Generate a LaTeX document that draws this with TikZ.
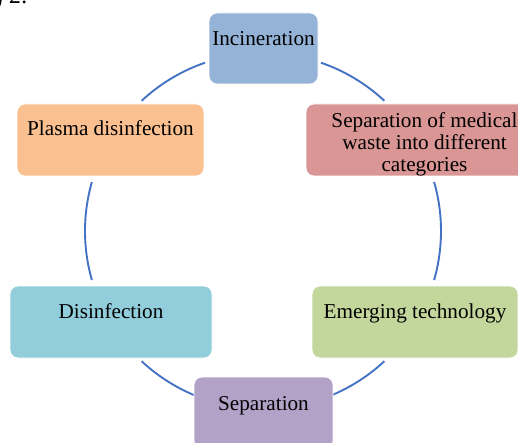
\documentclass[tikz,border=0pt]{standalone}
\usepackage{fontspec}
\setmainfont{Liberation Serif}
\usepackage{tikz}
\definecolor{incblue}{HTML}{95B3D7}
\definecolor{sepred}{HTML}{D99694}
\definecolor{emgreen}{HTML}{C3D69B}
\definecolor{seppurple}{HTML}{B2A2C7}
\definecolor{discyan}{HTML}{92CDDC}
\definecolor{plasorange}{HTML}{FAC090}
\definecolor{cyclink}{HTML}{4472C4}

\begin{document}
\begin{tikzpicture}[x=0.5pt, y=-0.5pt,
    font=\fontsize{10.6}{11}\selectfont,
    stagebox/.style={rounded corners=4pt, draw=white, line width=0.4pt, inner sep=0pt},
    cyclink/.style={color=cyclink, line width=0.95pt}]
  \useasboundingbox (0, 0) rectangle (518, 443);

  % cut caption above the picture
  \node [anchor=base east, font=\fontsize{12}{14}\selectfont\itshape] (caption) at (35, 4) {Fig 2.};

  % circle of the cycle
  \foreach \a/\b in {-133/-109, -71/-47, -16/16, 47/71, 109/133, 164/196} {
    \draw [cyclink] (263, 231) ++(\a:178) arc [start angle=\a, end angle=\b, radius=178];
  }

  \node [stagebox, fill=incblue, minimum width=54.5pt, minimum height=35.5pt] (inc) at (263.5, 48.5) {};
  \node [stagebox, fill=sepred, minimum width=118.5pt, minimum height=36pt] (sepmed) at (424.5, 140) {};
  \node [stagebox, fill=emgreen, minimum width=103pt, minimum height=36pt] (emerg) at (415, 322) {};
  \node [stagebox, fill=seppurple, minimum width=69.5pt, minimum height=36pt] (sep) at (263.5, 413) {};
  \node [stagebox, fill=discyan, minimum width=101pt, minimum height=36pt] (disinf) at (111, 322) {};
  \node [stagebox, fill=plasorange, minimum width=93.5pt, minimum height=36pt] (plasma) at (110.5, 140) {};

  \node [anchor=base] (inc-t) at (263.5, 46) {Incineration};
  \node [align=center, inner sep=0pt] (sepmed-t) at (424.5, 144)
    {Separation of medical\\ waste into different\\ categories};
  \node [anchor=base] (emerg-t) at (415, 318) {Emerging technology};
  \node [anchor=base] (sep-t) at (263.5, 410) {Separation};
  \node [anchor=base] (disinf-t) at (111, 318) {Disinfection};
  \node [anchor=base] (plasma-t) at (110.5, 136) {Plasma disinfection};
\end{tikzpicture}
\end{document}
